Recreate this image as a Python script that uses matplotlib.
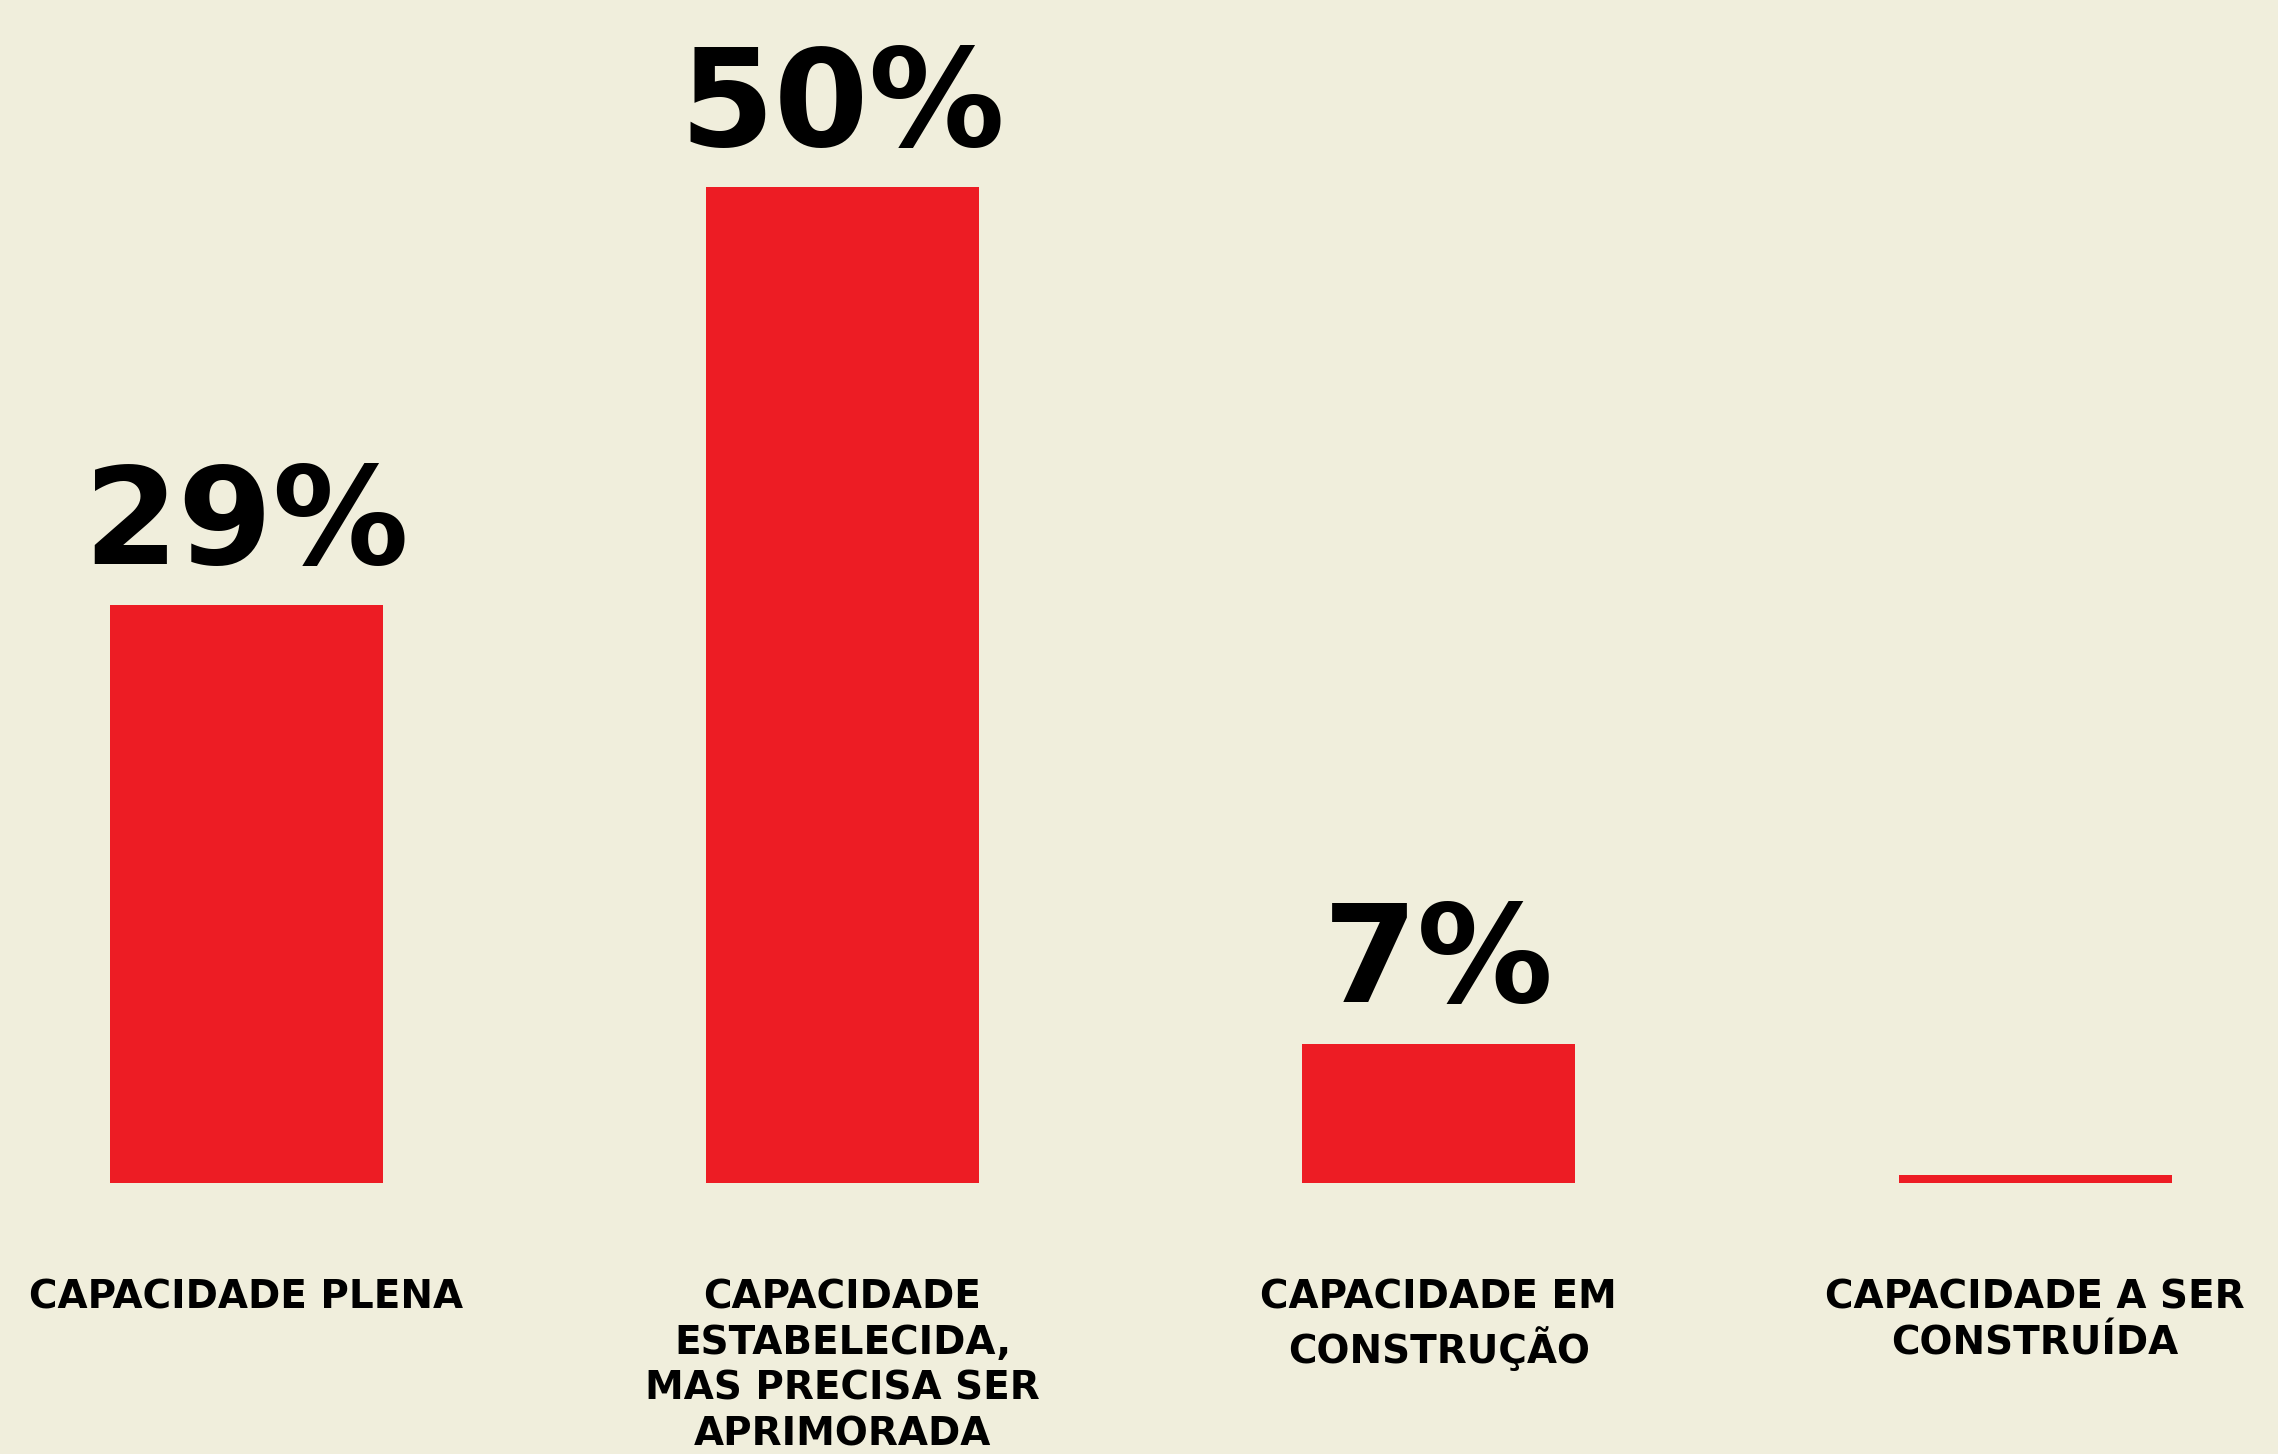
import numpy as np
import matplotlib
matplotlib.use("Agg")
import matplotlib.pyplot as plt

# data
categories = [
    "CAPACIDADE PLENA",
    "CAPACIDADE\nESTABELECIDA,\nMAS PRECISA SER\nAPRIMORADA",
    "CAPACIDADE EM\nCONSTRUÇÃO",
    "CAPACIDADE A SER\nCONSTRUÍDA",
]
values = [29, 50, 7, 0.4]
value_labels = ["29%", "50%", "7%", ""]

bg = "#F0EEDC"
red = "#ED1C24"

plt.rcParams['font.family'] = ['DejaVu Sans']

fig = plt.figure(figsize=(22.78, 14.54), dpi=100, facecolor=bg)
ax = fig.add_axes([0, 0.1864, 1, 0.8136])
ax.set_facecolor(bg)

x = np.arange(len(categories))
bars = ax.bar(x, values, width=0.458, color=red)

ax.set_xlim(-0.4127, 3.4073)
ax.set_ylim(0, 59.4)

# percentage labels above bars
for b, lab in zip(bars, value_labels):
    if lab:
        ax.annotate(lab, (b.get_x() + b.get_width() / 2, b.get_height()),
                    xytext=(0, 30), textcoords='offset points',
                    ha='center', va='baseline', fontsize=98,
                    fontweight='bold', color='black')

ax.set_xticks(x)
ax.set_xticklabels(categories, fontsize=28, fontweight='bold',
                   linespacing=1.25, va='top')
ax.tick_params(axis='x', length=0, pad=69)
ax.set_yticks([])
for s in ax.spines.values():
    s.set_visible(False)

fig.savefig("out.png", dpi=100, facecolor=bg)
